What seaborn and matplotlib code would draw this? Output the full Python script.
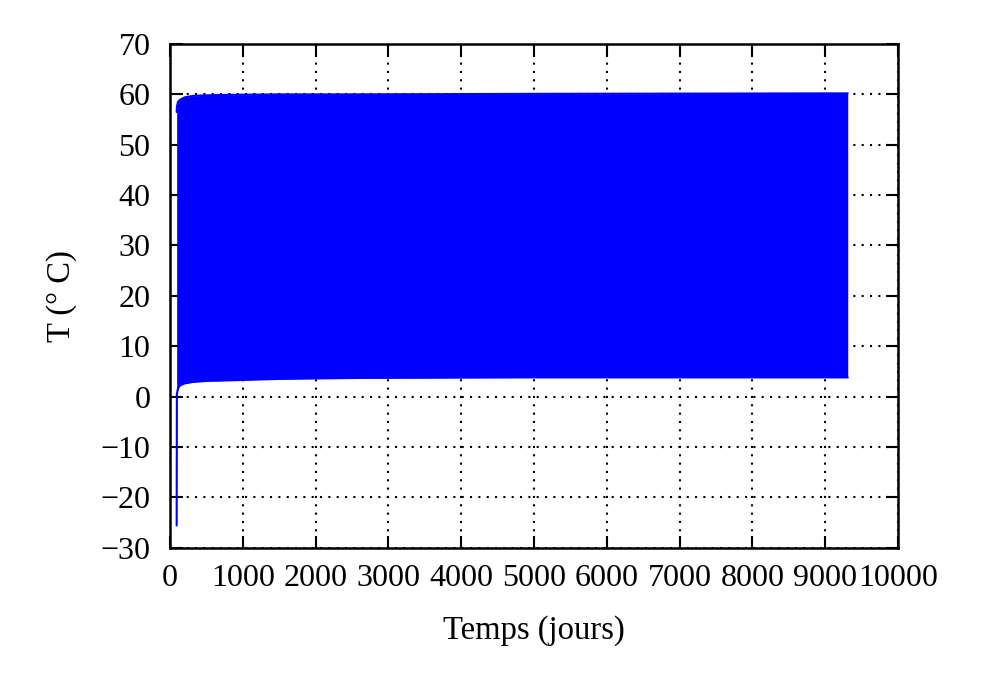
import matplotlib
matplotlib.use('Agg')
import matplotlib.pyplot as plt
import seaborn as sns
import pandas as pd

# envelope of the daily oscillation
DAYS = [92, 95, 110, 137, 200, 316, 500, 783, 1500, 2610, 5000, 9310]
T_MAX = [56.5, 57.5, 58.5, 58.9, 59.4, 59.7, 59.8, 59.9, 60.0, 60.0, 60.1, 60.2]
T_MIN = [-25.6, 0.5, 1.6, 2.2, 2.6, 2.9, 3.1, 3.2, 3.5, 3.7, 3.8, 3.8]

X_TICKS = list(range(0, 10001, 1000))
Y_TICKS = list(range(-30, 71, 10))

BLUE = '#0000ff'

sns.set_theme(style='ticks')
plt.rcParams.update({
    'font.family': ['Liberation Serif', 'DejaVu Serif'],
    'font.size': 23,
    'text.color': 'black',
    'axes.labelcolor': 'black',
    'axes.unicode_minus': True,
    'axes.linewidth': 1.8,
    'axes.edgecolor': 'black',
    'xtick.direction': 'in',
    'ytick.direction': 'in',
    'xtick.major.size': 9,
    'ytick.major.size': 9,
    'xtick.major.width': 1.5,
    'ytick.major.width': 1.5,
    'xtick.top': True,
    'ytick.right': True,
    'xtick.color': 'black',
    'ytick.color': 'black',
})

df = pd.DataFrame({'jours': DAYS, 'tmax': T_MAX, 'tmin': T_MIN})

fig = plt.figure(figsize=(9.87, 6.82), dpi=100)
ax = fig.add_axes([0.1722, 0.197, 0.7376, 0.7385])

ax.fill_between(df['jours'], df['tmin'], df['tmax'], color=BLUE, lw=0)
sns.lineplot(data=df, x='jours', y='tmax', ax=ax, color=BLUE, lw=1.5)
sns.lineplot(data=df, x='jours', y='tmin', ax=ax, color=BLUE, lw=1.5)

ax.set_xlim(0, 10000)
ax.set_ylim(-30, 70)
ax.set_xticks(X_TICKS)
ax.set_yticks(Y_TICKS)
ax.set_yticklabels([f'{v:d}'.replace('-', '\u2212') for v in Y_TICKS])
ax.tick_params(labelsize=23, labelcolor='black')
ax.tick_params(axis='x', pad=12)
ax.tick_params(axis='y', pad=14)
ax.grid(True, color='black', linestyle=(0, (1, 3)), linewidth=1.5)
ax.set_axisbelow(True)

ax.set_xlabel('Temps (jours)', fontsize=23.5, labelpad=16)
ax.set_ylabel('T (° C)', fontsize=23.5, labelpad=17)

fig.savefig('out.png', dpi=100)
